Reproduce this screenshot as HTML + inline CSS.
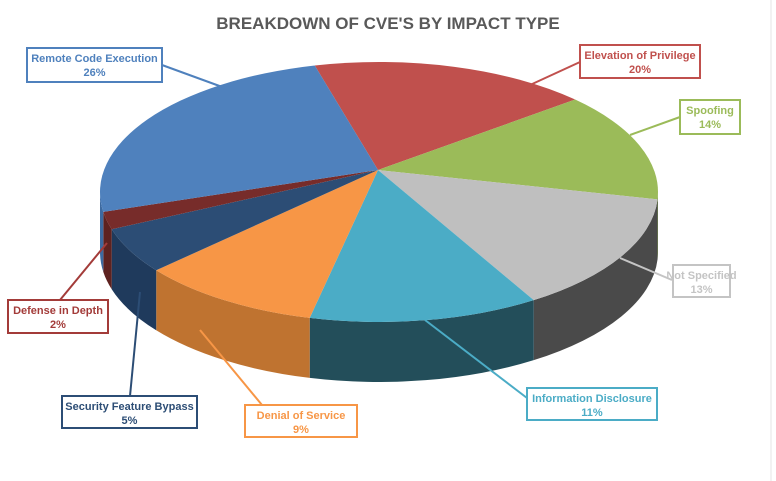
<!DOCTYPE html>
<html><head><meta charset="utf-8"><style>
html,body{margin:0;padding:0;background:#fff;}
svg{display:block;font-family:"Liberation Sans",sans-serif;}
</style></head><body>
<svg id="chart" width="776" height="481" viewBox="0 0 776 481">
<rect x="0" y="0" width="776" height="481" fill="#fff"/>
<line x1="771" y1="0" x2="771" y2="481" stroke="#e4e4e4"/>
<text x="388" y="29" text-anchor="middle" font-size="17" font-weight="bold" fill="#595959">BREAKDOWN OF CVE'S BY IMPACT TYPE</text>
<g id="sides"></g>
<g id="tops"></g>
<g id="labels"></g>
</svg>
<script>
const categories = ["Elevation of Privilege","Spoofing","Not Specified","Information Disclosure","Denial of Service","Security Feature Bypass","Defense in Depth","Remote Code Execution"];
const values = [20,14,13,11,9,5,2,26];
const valueLabels = ["20%","14%","13%","11%","9%","5%","2%","26%"];

const topColors = ["#c0504d","#9bbb59","#bfbfbf","#4bacc6","#f79646","#2c4d75","#772c2a","#4f81bd"];
const sideColors = ["#8f3b39","#6f8a3f","#4a4a4a","#234e5a","#bf7330","#1f3a5c","#5e2220","#3d6aa0"];
const textColors = ["#c0504d","#9bbb59","#c4c4c4","#4bacc6","#f79646","#2c4d75","#a33b39","#4f81bd"];
const boxes = [[580,45,120,33],[680,100,60,34],[673,265,57,32],[527,388,130,32],[245,405,112,32],[62,396,135,32],[8,300,100,33],[27,48,135,34]];
const leaders = [[580,62,530,85],[680,117,630,135],[672,280,620,258],[527,398,425,320],[262,405,200,330],[130,396,140,292],[60,300,107,243],[162,65,225,88]];

const NS="http://www.w3.org/2000/svg";
const cx=379, cy=192, rx=279, ry=130, depth=60, ax=378, ay=170;
const startDeg=-17, k=0.22;
function warp(d){const r=d*Math.PI/180;return r-k*Math.sin(r);}
function pt(r,dy){return [cx+rx*Math.sin(r), cy-ry*Math.cos(r)+(dy||0)];}
function arc(r1,r2,dy,sweep){const p=pt(r2,dy);const large=Math.abs(r2-r1)>Math.PI?1:0;return `A${rx},${ry} 0 ${large} ${sweep} ${p[0].toFixed(2)},${p[1].toFixed(2)}`;}
const total=values.reduce((a,b)=>a+b,0);
const sides=document.getElementById('sides'), tops=document.getElementById('tops'), labels=document.getElementById('labels');
let acc=startDeg;
const front0=Math.PI/2, front1=3*Math.PI/2;
values.forEach((v,i)=>{
  const d1=acc, d2=acc+v/total*360; acc=d2;
  const r1=warp(d1), r2=warp(d2);
  // side
  const s1=Math.max(r1,front0), s2=Math.min(r2,front1);
  if(s2>s1){
    const a=pt(s1), b=pt(s2,depth);
    const p=document.createElementNS(NS,'path');
    p.setAttribute('d',`M${a[0]},${a[1]} ${arc(s1,s2,0,1)} L${b[0]},${b[1]} ${arc(s2,s1,depth,0)} Z`);
    p.setAttribute('fill',sideColors[i]);
    
    
    sides.appendChild(p);
  }
  // left back side bit (blue wraps past 270)
  const a=pt(r1);
  const t=document.createElementNS(NS,'path');
  t.setAttribute('d',`M${ax},${ay} L${a[0]},${a[1]} ${arc(r1,r2,0,1)} Z`);
  t.setAttribute('fill',topColors[i]);
  
  
  tops.appendChild(t);
  // labels
  const L=leaders[i], B=boxes[i];
  const ln=document.createElementNS(NS,'line');
  ln.setAttribute('x1',L[0]);ln.setAttribute('y1',L[1]);ln.setAttribute('x2',L[2]);ln.setAttribute('y2',L[3]);
  ln.setAttribute('stroke',textColors[i]);ln.setAttribute('stroke-width','2');
  
  
  labels.appendChild(ln);
  const r=document.createElementNS(NS,'rect');
  r.setAttribute('x',B[0]);r.setAttribute('y',B[1]);r.setAttribute('width',B[2]);r.setAttribute('height',B[3]);
  r.setAttribute('fill','#fff');r.setAttribute('stroke',textColors[i]);r.setAttribute('stroke-width','2');
  
  
  labels.appendChild(r);
  [categories[i],valueLabels[i]].forEach((s,j)=>{
    const tx=document.createElementNS(NS,'text');
    tx.setAttribute('x',B[0]+B[2]/2);tx.setAttribute('y',B[1]+14+j*14);
    tx.setAttribute('text-anchor','middle');tx.setAttribute('font-size','11');tx.setAttribute('font-weight','bold');
    tx.setAttribute('fill',textColors[i]);
    tx.textContent=s;
    
    
    labels.appendChild(tx);
  });
});
</script>
</body></html>
